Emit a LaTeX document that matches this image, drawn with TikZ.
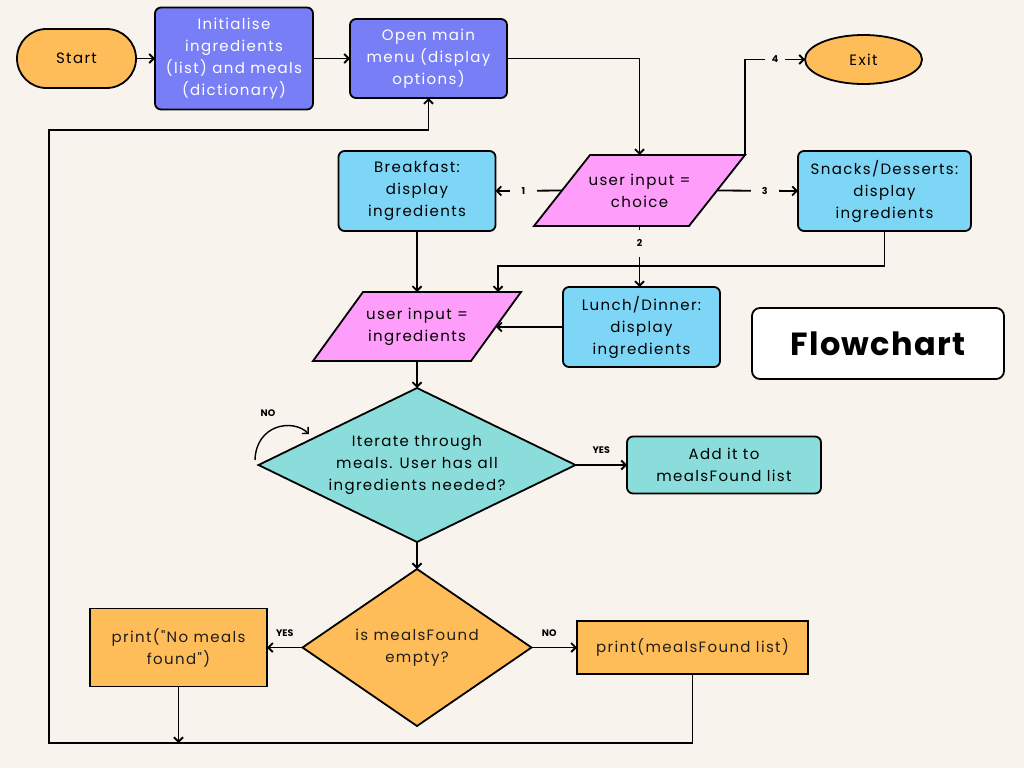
\documentclass[tikz,border=0pt]{standalone}
\usepackage{fontspec}
\setmainfont{Poppins}
\newfontfamily\popspaced[LetterSpace=9]{Poppins}
\newfontfamily\poptitle[LetterSpace=4]{Poppins}
\usetikzlibrary{arrows.meta,shapes.geometric}
\definecolor{bgc}{RGB}{248,244,237}
\definecolor{orangec}{RGB}{255,189,89}
\definecolor{purplec}{RGB}{120,126,246}
\definecolor{pinkc}{RGB}{255,158,250}
\definecolor{bluec}{RGB}{126,214,246}
\definecolor{cyanc}{RGB}{139,221,219}
\definecolor{darktxt}{RGB}{30,30,30}
\newcommand\bodytxt{\popspaced\fontsize{15}{22}\selectfont}
\newcommand\lbltxt{\fontsize{9.5}{11}\selectfont\bfseries}
\newcommand\titletxt{\poptitle\fontsize{32}{36}\selectfont\bfseries}
\begin{document}
\begin{tikzpicture}[x=1pt,y=-1pt,
  line width=1.8pt,
  every node/.style={inner sep=0pt,outer sep=0pt},
  arr/.style={-{Straight Barb[length=4.5pt,width=9pt]}},
  box/.style={draw=black,line width=1.8pt,rounded corners=6pt,align=center,font=\bodytxt},
  sqbox/.style={draw=black,line width=1.8pt,align=center,font=\bodytxt,text=darktxt,fill=orangec},
  term/.style={draw=black,line width=1.8pt,align=center,font=\bodytxt,fill=orangec},
  lbl/.style={font=\lbltxt,fill=bgc,minimum width=20pt,minimum height=14pt},
  yn/.style={font=\lbltxt},
  shapeline/.style={draw=black,line width=1.8pt,line join=miter},
  txt/.style={font=\bodytxt,align=center}
]
\useasboundingbox (0,0) rectangle (1024,768);
\fill[bgc] (0,0) rectangle (1024,768);

% terminals and process boxes
\node[term,rounded corners=29.5pt,minimum width=119pt,minimum height=59pt] (start) at (76.5,58.5) {Start};
\node[box,fill=purplec,text=white,minimum width=158pt,minimum height=102pt] (init) at (234,58.5) {Initialise\\ingredients\\(list) and meals\\(dictionary)};
\node[box,fill=purplec,text=white,minimum width=157pt,minimum height=79pt] (menu) at (428.5,58.5) {Open main\\menu (display\\options)};
\node[term,ellipse,minimum width=117pt,minimum height=49pt] (exit) at (863.5,59.5) {Exit};

% choice parallelogram
\node[minimum width=211pt,minimum height=71pt] (choice) at (639.5,190.5) {};
\filldraw[shapeline,fill=pinkc] (choice.south west) -- ([xshift=155pt]choice.south west) -- (choice.north east) -- ([xshift=-155pt]choice.north east) -- cycle;
\node[txt] (choicetext) at (choice) {user input =\\choice};

\node[box,fill=bluec,minimum width=157pt,minimum height=80pt] (bfast) at (417,191) {Breakfast:\\display\\ingredients};
\node[box,fill=bluec,minimum width=173pt,minimum height=80pt] (snacks) at (884.5,191) {Snacks/Desserts:\\display\\ingredients};
\node[box,fill=bluec,minimum width=157pt,minimum height=80pt] (lunch) at (641.5,327) {Lunch/Dinner:\\display\\ingredients};

% ingredients parallelogram
\node[minimum width=208pt,minimum height=69pt] (ing) at (417,326.5) {};
\filldraw[shapeline,fill=pinkc] (ing.south west) -- ([xshift=158pt]ing.south west) -- (ing.north east) -- ([xshift=-158pt]ing.north east) -- cycle;
\node[txt] (ingtext) at (ing) {user input =\\ingredients};

\node[draw=black,fill=white,line width=1.8pt,rounded corners=8pt,minimum width=252pt,minimum height=71pt,font=\titletxt] (title) at (878,343.5) {Flowchart};

% iterate diamond
\node[minimum width=317pt,minimum height=154pt] (iter) at (417,465) {};
\filldraw[shapeline,fill=cyanc] (iter.west) -- (iter.north) -- (iter.east) -- (iter.south) -- cycle;
\node[txt] (itertext) at (iter) {Iterate through\\meals. User has all\\ingredients needed?};

\node[box,fill=cyanc,minimum width=194pt,minimum height=57pt] (add) at (724,465) {Add it to\\mealsFound list};

% empty diamond
\node[minimum width=229pt,minimum height=157pt] (empty) at (417,647.5) {};
\filldraw[shapeline,fill=orangec] (empty.west) -- (empty.north) -- (empty.east) -- (empty.south) -- cycle;
\node[txt,text=darktxt] (emptytext) at (empty) {is mealsFound\\empty?};

\node[sqbox,minimum width=177pt,minimum height=78pt] (nomeals) at (178.5,647.5) {print("No meals\\found")};
\node[sqbox,line width=2.2pt,minimum width=231pt,minimum height=53pt] (found) at (692.5,647.5) {print(mealsFound list)};

% connectors
\draw[arr] (start.east) -- (init.west);
\draw[arr] (init.east) -- (menu.west);
\draw[arr] (menu.east) -| (choice.north);
\draw[arr] (choice.north east) |- node[lbl,pos=0.75] (l4) {4} (exit.west);
\coordinate (c1) at ([xshift=28pt]choice.west);
\draw[arr] (c1) -- node[lbl,pos=0.58,minimum width=27pt] (l1) {1} (bfast.east);
\coordinate (c3) at ([xshift=-28pt]choice.east);
\draw[arr] (c3) -- node[lbl,pos=0.59,minimum width=28pt] (l3) {3} (snacks.west);
\draw[arr] (choice.south) -- node[lbl,pos=0.28,minimum height=27pt] (l2) {2} (choice.south |- lunch.north);
\coordinate (j1) at (498,266);
\draw[arr] (snacks.south) |- (j1) -- (j1 |- ing.north);
\draw[arr] (bfast.south) -- (bfast.south |- ing.north);
\coordinate (c5) at ([xshift=-25pt]ing.east);
\draw[arr] (lunch.west) -- (c5 |- lunch.west);
\draw[arr] (ing.south) -- (iter.north);
\draw[arr] (iter.east) -- node[yn,midway,above=11pt] (lyes1) {YES} (add.west);
\coordinate (n0) at (255,460);
\coordinate (n1) at (309,434);
\draw[arr,line width=1.4pt] (n0) .. controls (256,425) and (292,418) .. (n1);
\node[yn] (lno1) at (268,413) {NO};
\draw[arr] (iter.south) -- (empty.north);
\draw[arr] (empty.west) -- node[yn,midway,above=11pt] (lyes2) {YES} (nomeals.east);
\draw[arr] (empty.east) -- node[yn,midway,above=11pt,xshift=-5pt] (lno2) {NO} (found.west);
\coordinate (b1) at (49,743);
\coordinate (b2) at (49,130);
\draw[arr] (found.south) |- (b1) -- (b2) -| (menu.south);
\draw[arr] (nomeals.south) -- (nomeals.south |- b1);
\end{tikzpicture}
\end{document}
